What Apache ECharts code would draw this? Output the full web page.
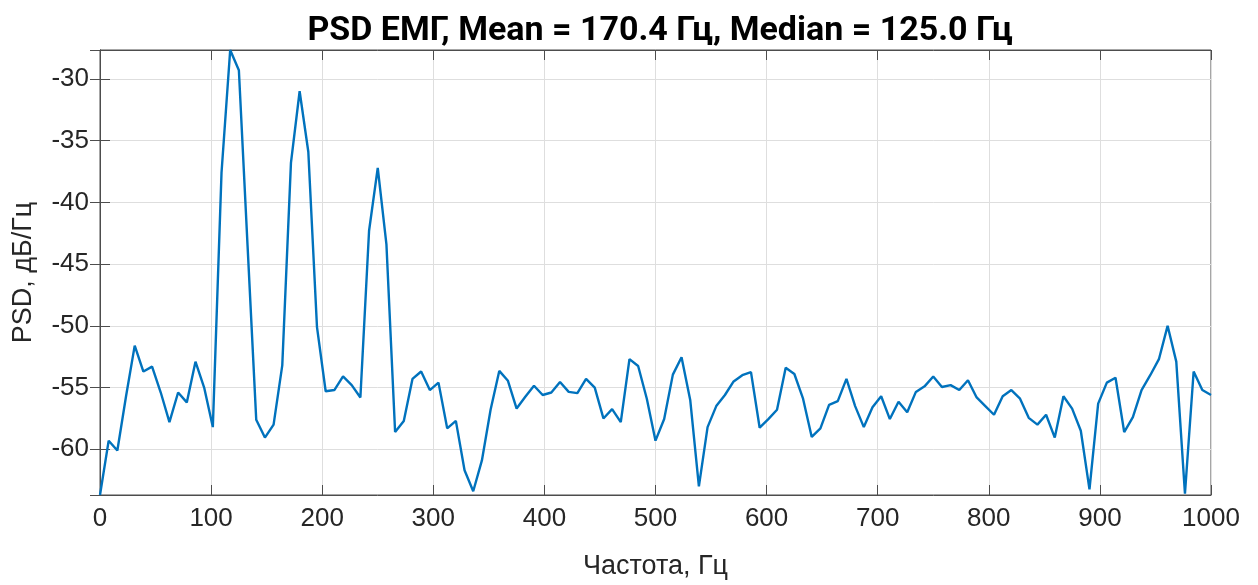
<!DOCTYPE html>
<html lang="ru">
<head>
    <meta charset="UTF-8">
    <title>PSD ЕМГ</title>
    <script src="https://cdn.jsdelivr.net/npm/echarts@6/dist/echarts.min.js"></script>
    <style>
        html, body { margin: 0; padding: 0; background: #fff; }
    </style>
</head>
<body>
    <div id="chart" style="width:1258px;height:585px;"></div>
    <script>
        // шаг по частоте (fs / N)
        var freqStep = 1000 / 128;
        var freqTicks = [0, 100, 200, 300, 400, 500, 600, 700, 800, 900, 1000];
        var psdTicks = [-60, -55, -50, -45, -40, -35, -30];

        // PSD, дБ/Гц
        var psd = [
            -63.7, -59.3, -60.1, -55.7, -51.6, -53.7, -53.3, -55.4, -57.8, -55.4,
            -56.2, -52.9, -55.0, -58.2, -37.6, -27.66, -29.3, -43.5, -57.6, -59.05,
            -58.0, -53.2, -36.8, -31.0, -35.9, -50.1, -55.3, -55.2, -54.1, -54.8,
            -55.8, -42.3, -37.2, -43.4, -58.6, -57.7, -54.3, -53.7, -55.2, -54.6,
            -58.3, -57.7, -61.7, -63.4, -60.9, -56.8, -53.65, -54.45, -56.7, -55.75,
            -54.85, -55.6, -55.4, -54.55, -55.35, -55.45, -54.3, -55.0, -57.5, -56.75,
            -57.8, -52.7, -53.25, -55.9, -59.3, -57.55, -53.95, -52.55, -56.0, -63.0,
            -58.2, -56.5, -55.6, -54.5, -54.0, -53.75, -58.25, -57.55, -56.8, -53.4,
            -53.9, -55.9, -59.0, -58.3, -56.4, -56.1, -54.3, -56.5, -58.2, -56.6,
            -55.7, -57.55, -56.15, -57.0, -55.35, -54.9, -54.1, -54.95, -54.8, -55.2,
            -54.4, -55.8, -56.5, -57.2, -55.7, -55.2, -55.9, -57.45, -58.0, -57.2,
            -59.05, -55.7, -56.7, -58.5, -63.25, -56.3, -54.6, -54.2, -58.6, -57.4,
            -55.2, -54.0, -52.7, -50.0, -52.9, -63.6, -53.7, -55.2, -55.6
        ];

        var freq = [];
        for (var i = 0; i < psd.length; i++) {
            freq.push(i * freqStep);
        }

        var lineData = [];
        for (var j = 0; j < psd.length; j++) {
            lineData.push([freq[j], psd[j]]);
        }

        var yMin = -63.7;
        var yMax = -27.66;

        var axisColor = '#4d4d4d';
        var textColor = '#262626';
        var gridColor = '#dedede';
        var font = 'Liberation Sans';

        var chart = echarts.init(document.getElementById('chart'));

        var option = {
            animation: false,
            title: {
                text: 'PSD ЕМГ, Mean = 170.4 Гц, Median = 125.0 Гц',
                left: 655,
                textAlign: 'center',
                top: 9,
                textStyle: {
                    fontFamily: 'Roboto',
                    fontWeight: 'bold',
                    fontSize: 34,
                    color: '#000'
                }
            },
            grid: {
                left: 100,
                right: 47,
                top: 50,
                bottom: 88,
                show: true,
                borderColor: axisColor,
                borderWidth: 1
            },
            xAxis: [{
                type: 'value',
                min: 0,
                max: 1000,
                interval: 100,
                name: 'Частота, Гц',
                nameLocation: 'middle',
                nameGap: 58,
                nameTextStyle: { fontFamily: font, fontSize: 27, color: textColor },
                axisLine: { show: true, lineStyle: { color: axisColor } },
                axisTick: { show: true, inside: true, length: 10, lineStyle: { color: axisColor } },
                axisLabel: {
                    fontFamily: font, fontSize: 26, color: textColor, margin: 11,
                    formatter: function (v) { return freqTicks.indexOf(v) >= 0 ? String(v) : ''; }
                },
                splitLine: { show: true, lineStyle: { color: gridColor, width: 1 } }
            }, {
                type: 'value',
                position: 'top',
                min: 0,
                max: 1000,
                interval: 100,
                axisLine: { show: true, lineStyle: { color: axisColor } },
                axisTick: { show: true, inside: true, length: 10, lineStyle: { color: axisColor } },
                axisLabel: { show: false },
                splitLine: { show: false }
            }],
            yAxis: [{
                type: 'value',
                min: yMin,
                max: yMax,
                splitNumber: 8,
                name: 'PSD, дБ/Гц',
                nameLocation: 'middle',
                nameGap: 63,
                nameTextStyle: { fontFamily: font, fontSize: 27, color: textColor },
                axisLine: { show: true, lineStyle: { color: axisColor } },
                axisTick: { show: true, inside: true, length: 10, lineStyle: { color: axisColor } },
                axisLabel: {
                    fontFamily: font, fontSize: 26, color: textColor, margin: 11,
                    showMinLabel: false, showMaxLabel: false,
                    formatter: function (v) { return psdTicks.indexOf(v) >= 0 ? String(v) : ''; }
                },
                splitLine: { show: true, lineStyle: { color: gridColor, width: 1 } }
            }, {
                type: 'value',
                position: 'right',
                min: yMin,
                max: yMax,
                splitNumber: 8,
                axisLine: { show: true, lineStyle: { color: axisColor } },
                axisTick: { show: true, inside: true, length: 10, lineStyle: { color: axisColor } },
                axisLabel: { show: false },
                splitLine: { show: false }
            }],
            series: [{
                name: 'PSD',
                type: 'line',
                data: lineData,
                xAxisIndex: 0,
                yAxisIndex: 0,
                showSymbol: false,
                symbol: 'none',
                lineStyle: { color: '#0072BD', width: 2.4 },
                clip: true
            }]
        };

        chart.setOption(option);
    </script>
</body>
</html>
